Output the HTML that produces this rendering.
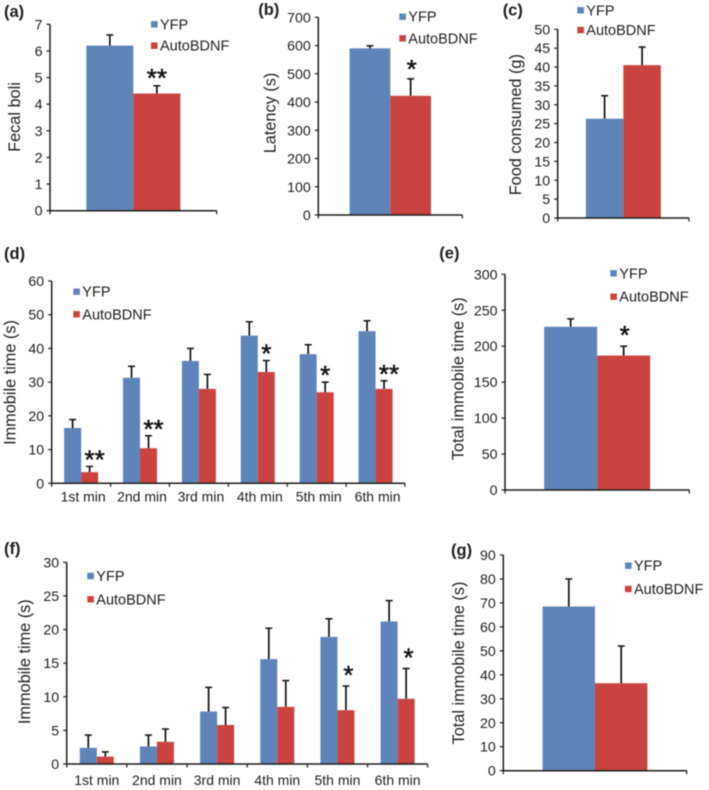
<!DOCTYPE html>
<html lang="en">
<head>
<meta charset="utf-8">
<title>YFP vs AutoBDNF behaviour panels</title>
<style>
html,body{margin:0;padding:0;background:#fff;width:709px;height:790px;overflow:hidden}
svg{display:block;filter:blur(0.45px)}
text{font-family:"Liberation Sans",sans-serif;fill:#1e1e1e}
</style>
</head>
<body>
<svg id="figure" width="709" height="790" viewBox="0 0 709 790" xmlns="http://www.w3.org/2000/svg"></svg>
<script>
const seriesNames = ['YFP', 'AutoBDNF'];

const yTicksA = [0, 1, 2, 3, 4, 5, 6, 7];
const categoriesA = [''];
const yfpA = [6.2];
const yfpErrA = [0.4];
const autoA = [4.4];
const autoErrA = [0.29];
const starsA = ['**'];

const yTicksB = [0, 100, 200, 300, 400, 500, 600, 700];
const categoriesB = [''];
const yfpB = [590];
const yfpErrB = [9];
const autoB = [422];
const autoErrB = [60];
const starsB = ['*'];

const yTicksC = [0, 5, 10, 15, 20, 25, 30, 35, 40, 45, 50];
const categoriesC = [''];
const yfpC = [26.3];
const yfpErrC = [6.1];
const autoC = [40.5];
const autoErrC = [4.8];
const starsC = [''];

const yTicksD = [0, 10, 20, 30, 40, 50, 60];
const categoriesD = ['1st min', '2nd min', '3rd min', '4th min', '5th min', '6th min'];
const yfpD = [16.4, 31.3, 36.3, 43.8, 38.3, 45.1];
const yfpErrD = [2.5, 3.4, 3.7, 4.1, 2.8, 3.1];
const autoD = [3.3, 10.4, 28, 33, 27, 28];
const autoErrD = [1.7, 3.7, 4.3, 3.4, 3, 2.4];
const starsD = ['**', '**', '', '*', '*', '**'];

const yTicksE = [0, 50, 100, 150, 200, 250, 300];
const categoriesE = [''];
const yfpE = [227];
const yfpErrE = [11];
const autoE = [187];
const autoErrE = [13];
const starsE = ['*'];

const yTicksF = [0, 5, 10, 15, 20, 25, 30];
const categoriesF = ['1st min', '2nd min', '3rd min', '4th min', '5th min', '6th min'];
const yfpF = [2.4, 2.6, 7.8, 15.6, 18.9, 21.2];
const yfpErrF = [1.9, 1.7, 3.6, 4.6, 2.7, 3.1];
const autoF = [1.1, 3.3, 5.8, 8.5, 8, 9.7];
const autoErrF = [0.7, 1.9, 2.6, 3.9, 3.6, 4.5];
const starsF = ['', '', '', '', '*', '*'];

const yTicksG = [0, 10, 20, 30, 40, 50, 60, 70, 80, 90];
const categoriesG = [''];
const yfpG = [68.5];
const yfpErrG = [11.5];
const autoG = [36.5];
const autoErrG = [15.5];
const starsG = [''];

const BLUE = '#5f84b9';
const RED = '#cb4340';
const INK = '#1c1c1c';
const NS = 'http://www.w3.org/2000/svg';
const figure = document.getElementById('figure');

function make(tag, parent, attrs, content) {
  const node = document.createElementNS(NS, tag);
  for (const key in attrs) node.setAttribute(key, attrs[key]);
  if (content !== undefined) node.textContent = content;
  parent.appendChild(node);
  return node;
}

function drawPanel(p) {
  const yMax = p.yTicks[p.yTicks.length - 1];
  const yScale = function (v) { return p.y0 - (v / yMax) * (p.y0 - p.yTop); };
  const band = (p.x1 - p.x0) / p.categories.length;
  const bandStart = function (i) { return p.x0 + band * i; };

  const group = make('g', figure, {});
  
  

  const panelLabel = make('text', group, { x: p.labelX, y: p.labelY, 'font-size': 16.5, 'font-weight': 'bold' }, '(' + p.id + ')');
  
  

  const yTitle = make('text', group, {
    x: 0, y: 0, 'font-size': 16.3, 'text-anchor': 'middle',
    transform: 'translate(' + p.titleX + ' ' + p.titleY + ') rotate(-90)'
  }, p.title);
  
  

  p.categories.forEach(function (cat, i) {
    const centre = bandStart(i) + band / 2;
    const series = [
      { name: seriesNames[0], values: p.yfp, errs: p.yfpErr, color: BLUE, left: centre - p.barW },
      { name: seriesNames[1], values: p.auto, errs: p.autoErr, color: RED, left: centre }
    ];
    series.forEach(function (s) {
      const top = yScale(s.values[i]);
      const errTop = yScale(s.values[i] + s.errs[i]);
      const mid = s.left + p.barW / 2;

      const stem = make('line', group, { x1: mid, x2: mid, y1: top, y2: errTop, stroke: '#111', 'stroke-width': 1.7 });
      
      

      const cap = make('line', group, { x1: mid - 3.5, x2: mid + 3.5, y1: errTop, y2: errTop, stroke: '#111', 'stroke-width': 1.5 });
      
      

      const bar = make('rect', group, { x: s.left, y: top, width: p.barW, height: p.y0 - top, fill: s.color });
      
      
    });

    if (p.stars[i]) {
      const errTop = yScale(p.auto[i] + p.autoErr[i]);
      const starY = errTop - p.starGap;
      const starX = centre + p.barW / 2 + (p.stars[i].length > 1 ? p.doubleShift : p.singleShift);
      const star = make('text', group, { x: starX, y: starY + 13, 'font-size': 26, 'text-anchor': 'middle', style: 'fill:#111;stroke:#111;stroke-width:0.5' }, p.stars[i]);
      
      
    }

    if (cat) {
      const catLabel = make('text', group, { x: centre + p.catShift, y: p.catY, 'font-size': 14, 'text-anchor': 'middle' }, cat);
      
      
    }
  });

  const yAxis = make('line', group, { x1: p.x0, x2: p.x0, y1: p.yTop, y2: p.y0, stroke: INK, 'stroke-width': 1.5 });
  
  

  const xAxis = make('line', group, { x1: p.x0 - 0.7, x2: p.x1, y1: p.y0, y2: p.y0, stroke: INK, 'stroke-width': 1.5 });
  
  

  p.yTicks.forEach(function (t) {
    const y = yScale(t);
    const tick = make('line', group, { x1: p.x0 - 3.5, x2: p.x0, y1: y, y2: y, stroke: INK, 'stroke-width': 1.2 });
    
    

    const tickLabel = make('text', group, { x: p.x0 - 7.5, y: y + 5, 'font-size': 14.2, 'text-anchor': 'end' }, String(t));
    
    
  });

  for (let i = 0; i <= p.categories.length; i++) {
    const x = bandStart(i);
    const xTick = make('line', group, { x1: x, x2: x, y1: p.y0, y2: p.y0 + 3.5, stroke: INK, 'stroke-width': 1.2 });
    
    
  }

  const swatchYfp = make('rect', group, { x: p.legX, y: p.legY1 - 8.2, width: 6.6, height: 6.4, fill: BLUE });
  
  

  const labelYfp = make('text', group, { x: p.legX + 9, y: p.legY1, 'font-size': 14.5 }, seriesNames[0]);
  
  

  const swatchAuto = make('rect', group, { x: p.legX, y: p.legY2 - 8.2, width: 6.6, height: 6.4, fill: RED });
  
  

  const labelAuto = make('text', group, { x: p.legX + 9, y: p.legY2, 'font-size': 14.5 }, seriesNames[1]);
  
  
}

drawPanel({ id: 'a', title: 'Fecal boli', yTicks: yTicksA, categories: categoriesA, yfp: yfpA, yfpErr: yfpErrA, auto: autoA, autoErr: autoErrA, stars: starsA,
  x0: 50, x1: 216.7, yTop: 24.3, y0: 210.7, barW: 47, labelX: 4, labelY: 17, titleX: 20, titleY: 117,
  legX: 151, legY1: 29.3, legY2: 50.7, starGap: 12, doubleShift: 0, singleShift: 0, catShift: 0, catY: 0 });

drawPanel({ id: 'b', title: 'Latency (s)', yTicks: yTicksB, categories: categoriesB, yfp: yfpB, yfpErr: yfpErrB, auto: autoB, autoErr: autoErrB, stars: starsB,
  x0: 318.3, x1: 462.3, yTop: 17.3, y0: 215, barW: 40.7, labelX: 258.3, labelY: 15, titleX: 275.3, titleY: 113,
  legX: 399.3, legY1: 21.7, legY2: 43.3, starGap: 13.7, doubleShift: 0, singleShift: 1, catShift: 0, catY: 0 });

drawPanel({ id: 'c', title: 'Food consumed (g)', yTicks: yTicksC, categories: categoriesC, yfp: yfpC, yfpErr: yfpErrC, auto: autoC, autoErr: autoErrC, stars: starsC,
  x0: 557.7, x1: 689, yTop: 29.3, y0: 218, barW: 37.5, labelX: 502.7, labelY: 15.7, titleX: 521, titleY: 124.7,
  legX: 577.3, legY1: 15.3, legY2: 35, starGap: 12, doubleShift: 0, singleShift: 0, catShift: 0, catY: 0 });

drawPanel({ id: 'd', title: 'Immobile time (s)', yTicks: yTicksD, categories: categoriesD, yfp: yfpD, yfpErr: yfpErrD, auto: autoD, autoErr: autoErrD, stars: starsD,
  x0: 51.7, x1: 405, yTop: 281, y0: 483.3, barW: 17, labelX: 4, labelY: 259, titleX: 15.7, titleY: 382.5,
  legX: 73.3, legY1: 296.7, legY2: 319.3, starGap: 11, doubleShift: 5, singleShift: 0, catShift: 2, catY: 501.7 });

drawPanel({ id: 'e', title: 'Total immobile time (s)', yTicks: yTicksE, categories: categoriesE, yfp: yfpE, yfpErr: yfpErrE, auto: autoE, autoErr: autoErrE, stars: starsE,
  x0: 505, x1: 689.3, yTop: 274.3, y0: 490, barW: 53, labelX: 439.3, labelY: 258.3, titleX: 463.3, titleY: 378.7,
  legX: 610.3, legY1: 278.3, legY2: 301.7, starGap: 15, doubleShift: 0, singleShift: 1, catShift: 0, catY: 0 });

drawPanel({ id: 'f', title: 'Immobile time (s)', yTicks: yTicksF, categories: categoriesF, yfp: yfpF, yfpErr: yfpErrF, auto: autoF, autoErr: autoErrF, stars: starsF,
  x0: 66.7, x1: 427.7, yTop: 562.3, y0: 764, barW: 17, labelX: 4, labelY: 554, titleX: 30, titleY: 661.7,
  legX: 87.3, legY1: 581, legY2: 604.3, starGap: 15, doubleShift: 0, singleShift: 2.5, catShift: 0, catY: 785 });

drawPanel({ id: 'g', title: 'Total immobile time (s)', yTicks: yTicksG, categories: categoriesG, yfp: yfpG, yfpErr: yfpErrG, auto: autoG, autoErr: autoErrG, stars: starsG,
  x0: 503.3, x1: 686.7, yTop: 555, y0: 770.7, barW: 52.4, labelX: 451, labelY: 555.7, titleX: 464, titleY: 663,
  legX: 625, legY1: 570.7, legY2: 594, starGap: 12, doubleShift: 0, singleShift: 0, catShift: 0, catY: 0 });
</script>
</body>
</html>
